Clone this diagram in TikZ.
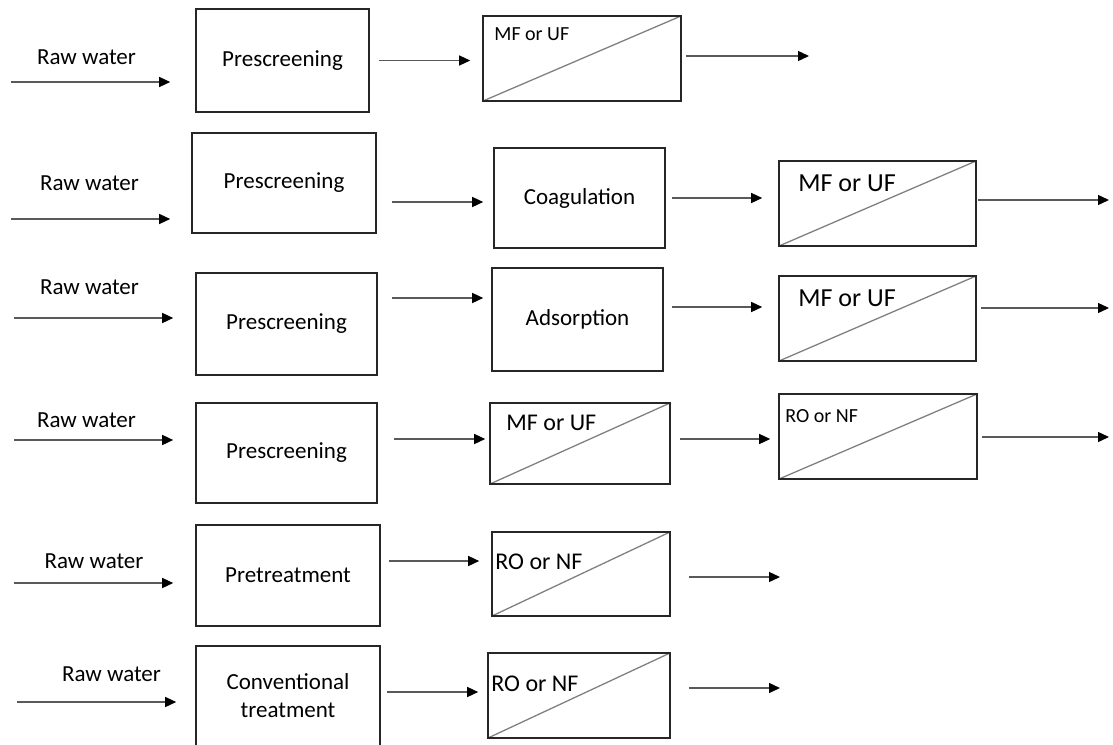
\documentclass[tikz,border=0pt]{standalone}
\usepackage{fontspec}
\setmainfont{Carlito}
\usetikzlibrary{arrows.meta}
\colorlet{edx}{black!85}
\colorlet{lnx}{black!65}
\colorlet{dgx}{black!50}
\tikzset{
    stage/.style={draw=edx,line width=1.6pt,inner sep=0pt,align=center,font=\fontsize{23}{28}\selectfont},
    memb/.style={draw=edx,line width=1.6pt,inner sep=0pt,
        path picture={\draw[dgx,line width=1.3pt] (path picture bounding box.south west) -- (path picture bounding box.north east);}},
    tag/.style={inner sep=0pt,anchor=north west},
    rawlbl/.style={inner sep=0pt,font=\fontsize{23}{28}\selectfont},
    flow/.style={lnx,line width=1.4pt,-{Triangle[length=11pt,width=10pt,color=black]}}
}

\begin{document}
\begin{tikzpicture}[x=1pt,y=-1pt]
            \useasboundingbox (0,0) rectangle (1113,744);
            \node [rawlbl] (rw1) at (86.5,57) {Raw water};
            \node [stage,minimum width=173pt,minimum height=103pt] (p1) at (282.5,60.5) {Prescreening};
            \node [memb,minimum width=198pt,minimum height=85pt] (m1) at (582,58.5) {};
            \node [tag,font=\fontsize{20}{24}\selectfont] (m1t) at ([xshift=12pt,yshift=-12pt]m1.north west) {MF or UF};
            \coordinate (s1) at (11,82);
            \coordinate (o1) at (809,56);
            \draw [flow,shorten >=25pt] (s1) -- (s1 -| p1.west);
            \draw [flow,shorten <=9pt,shorten >=12pt] (p1.east) -- (p1.east -| m1.west);
            \draw [flow,shorten <=4pt] (m1.east |- o1) -- (o1);

            \node [rawlbl] (rw2) at (89.5,183) {Raw water};
            \node [stage,minimum width=184pt,minimum height=100pt] (p2) at (284,183) {Prescreening};
            \node [stage,minimum width=171pt,minimum height=100pt] (c2) at (579.5,198) {Coagulation};
            \node [memb,minimum width=197pt,minimum height=85pt] (m2) at (877.5,203.5) {};
            \node [tag,font=\fontsize{26}{30}\selectfont] (m2t) at ([xshift=20pt,yshift=-14pt]m2.north west) {MF or UF};
            \coordinate (s2) at (11,219);
            \coordinate (o2) at (1109,200);
            \draw [flow,shorten >=21pt] (s2) -- (s2 -| p2.west);
            \draw [flow,shorten <=15pt,shorten >=10pt] ([yshift=-19pt]p2.east) -- ([yshift=-19pt]p2.east -| c2.west);
            \draw [flow,shorten <=6pt,shorten >=16pt] (c2.east) -- (c2.east -| m2.west);
            \draw [flow,shorten <=1pt] (m2.east |- o2) -- (o2);

            \node [rawlbl] (rw3) at (89.5,287) {Raw water};
            \node [stage,minimum width=181pt,minimum height=102pt] (p3) at (286.5,324) {Prescreening};
            \node [stage,minimum width=171pt,minimum height=103pt] (a3) at (577.5,319.5) {Adsorption};
            \node [memb,minimum width=197pt,minimum height=85pt] (m3) at (877.5,318.5) {};
            \node [tag,font=\fontsize{26}{30}\selectfont] (m3t) at ([xshift=20pt,yshift=-14pt]m3.north west) {MF or UF};
            \coordinate (s3) at (14,318);
            \coordinate (o3) at (1109,308);
            \draw [flow,shorten >=22pt] (s3) -- (s3 -| p3.west);
            \draw [flow,shorten <=14pt,shorten >=8pt] ([yshift=26pt]p3.east) -- ([yshift=26pt]p3.east -| a3.west);
            \draw [flow,shorten <=8pt,shorten >=16pt] ([yshift=12.5pt]a3.east) -- ([yshift=12.5pt]a3.east -| m3.west);
            \draw [flow,shorten <=4pt] (m3.east |- o3) -- (o3);

            \node [rawlbl] (rw4) at (86.5,420) {Raw water};
            \node [stage,minimum width=181pt,minimum height=100pt] (p4) at (286.5,453) {Prescreening};
            \node [memb,minimum width=180pt,minimum height=81pt] (m4) at (580,443.5) {};
            \node [tag,font=\fontsize{24}{28}\selectfont] (m4t) at ([xshift=17pt,yshift=-13pt]m4.north west) {MF or UF};
            \node [memb,minimum width=198pt,minimum height=85pt] (r4) at (878,436.5) {};
            \node [tag,font=\fontsize{20}{24}\selectfont] (r4t) at ([xshift=7pt,yshift=-16pt]r4.north west) {RO or NF};
            \coordinate (s4) at (14,440);
            \coordinate (o4) at (1109,437);
            \draw [flow,shorten >=22pt] (s4) -- (s4 -| p4.west);
            \draw [flow,shorten <=16pt,shorten >=4pt] ([yshift=14pt]p4.east) -- ([yshift=14pt]p4.east -| m4.west);
            \draw [flow,shorten <=9pt,shorten >=8pt] ([yshift=4.5pt]m4.east) -- ([yshift=4.5pt]m4.east -| r4.west);
            \draw [flow,shorten <=4pt] (r4.east |- o4) -- (o4);

            \node [rawlbl] (rw5) at (94,561) {Raw water};
            \node [stage,minimum width=184pt,minimum height=101pt] (p5) at (288,575.5) {Pretreatment};
            \node [memb,minimum width=178pt,minimum height=84pt] (r5) at (581,574) {};
            \node [tag,font=\fontsize{24}{28}\selectfont] (r5t) at ([xshift=4pt,yshift=-23pt]r5.north west) {RO or NF};
            \coordinate (s5) at (14,583);
            \coordinate (o5) at (780,577);
            \draw [flow,shorten >=22pt] (s5) -- (s5 -| p5.west);
            \draw [flow,shorten <=8pt,shorten >=12pt] ([yshift=14.5pt]p5.east) -- ([yshift=14.5pt]p5.east -| r5.west);
            \draw [flow,shorten <=18pt] (r5.east |- o5) -- (o5);

            \node [rawlbl] (rw6) at (111.5,674) {Raw water};
            \node [stage,minimum width=184pt,minimum height=100pt] (p6) at (288,696) {Conventional\\treatment};
            \node [memb,minimum width=182pt,minimum height=85pt] (r6) at (579,695.5) {};
            \node [tag,font=\fontsize{24}{28}\selectfont] (r6t) at ([xshift=4pt,yshift=-24pt]r6.north west) {RO or NF};
            \coordinate (s6) at (17,702);
            \coordinate (o6) at (780,688);
            \draw [flow,shorten >=19pt] (s6) -- (s6 -| p6.west);
            \draw [flow,shorten <=6pt,shorten >=9pt] ([yshift=4pt]p6.east) -- ([yshift=4pt]p6.east -| r6.west);
            \draw [flow,shorten <=18pt] (r6.east |- o6) -- (o6);
        \end{tikzpicture}
\end{document}
